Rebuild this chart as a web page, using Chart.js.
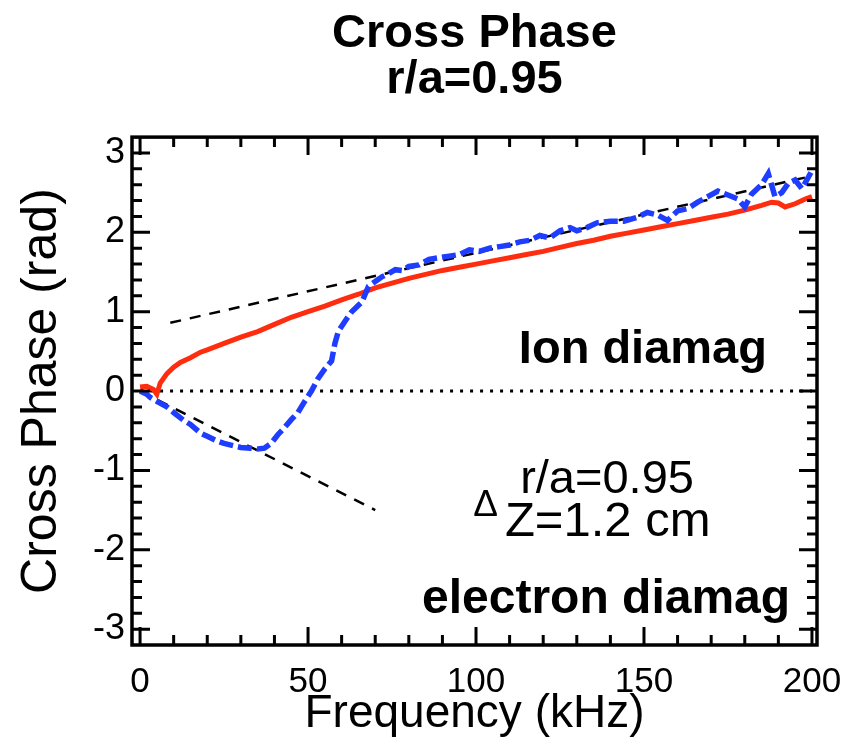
<!DOCTYPE html>
<html>
<head>
<meta charset="utf-8">
<script src="https://cdn.jsdelivr.net/npm/chart.js@4/dist/chart.umd.min.js"></script>
<style>
  html, body { margin: 0; padding: 0; background: #fff; }
  #wrap { width: 852px; height: 754px; }
</style>
</head>
<body>
<div id="wrap"><canvas id="phaseChart" width="852" height="754"></canvas></div>
<script>
// frequency (kHz) and cross phase (rad)
let redFreq = [0, 2, 4, 5, 6, 8, 10, 12, 15, 18, 20, 25, 30, 35, 40, 45, 50, 55, 60, 65, 70, 75, 80, 85, 90, 95,
  100, 105, 110, 115, 120, 125, 130, 135, 140, 145, 150, 155, 160, 165, 170, 175, 180, 185, 188, 190, 192, 195, 198, 200];
let redPhase = [0.05, 0.06, 0.02, -0.04, 0.1, 0.22, 0.3, 0.36, 0.42, 0.49, 0.52, 0.6, 0.68, 0.75, 0.84, 0.93, 1.0, 1.07, 1.15, 1.22, 1.3, 1.36, 1.42, 1.47, 1.52, 1.56,
  1.6, 1.64, 1.68, 1.72, 1.76, 1.81, 1.86, 1.9, 1.95, 1.99, 2.03, 2.07, 2.11, 2.15, 2.19, 2.23, 2.28, 2.34, 2.38, 2.37, 2.32, 2.36, 2.42, 2.45];

let blueFreq = [0, 2, 3, 5, 8, 10, 13, 15, 18, 20, 23, 25, 28, 30, 33, 35, 37, 39, 41, 43, 45, 47, 49, 51, 53, 55, 57, 58, 59, 61, 63, 65, 66, 67, 68,
  70, 72, 74, 76, 78, 80, 83, 86, 89, 92, 95, 98, 101, 104, 107, 110, 113, 116, 119, 122, 125, 128, 130, 133, 136, 140, 144, 148,
  151, 154, 157, 160, 163, 166, 169, 172, 175, 178, 180, 182, 185, 187, 189, 191, 193, 195, 197, 199, 200];
let bluePhase = [0.0, -0.04, -0.08, -0.13, -0.2, -0.27, -0.37, -0.42, -0.53, -0.57, -0.63, -0.66, -0.69, -0.71, -0.72, -0.73, -0.72, -0.66, -0.55, -0.46, -0.36, -0.27, -0.13, 0.0, 0.16, 0.28, 0.38, 0.6, 0.75, 0.88, 1.0, 1.08, 1.12, 1.22, 1.32,
  1.38, 1.44, 1.48, 1.53, 1.52, 1.57, 1.59, 1.66, 1.68, 1.7, 1.72, 1.78, 1.76, 1.8, 1.82, 1.84, 1.88, 1.9, 1.96, 1.93, 2.02, 2.06, 2.02, 2.06, 2.12, 2.14, 2.14, 2.19,
  2.25, 2.22, 2.15, 2.27, 2.3, 2.38, 2.45, 2.52, 2.47, 2.42, 2.32, 2.48, 2.6, 2.74, 2.45, 2.5, 2.62, 2.66, 2.55, 2.7, 2.78];

// black dashed guide lines and the zero line
let ionFitFreq = [9, 200];
let ionFitPhase = [0.86, 2.71];
let elecFitFreq = [0, 70];
let elecFitPhase = [0.0, -1.5];
let zeroFreq = [0, 200];
let zeroPhase = [0, 0];

let xTicks = [0, 50, 100, 150, 200];
let yTicks = [-3, -2, -1, 0, 1, 2, 3];

const FONT = '"Liberation Sans", Arial, Helvetica, sans-serif';

function pairs(xs, ys) {
  return xs.map((x, i) => ({ x: x, y: ys[i] }));
}

// frame with inward major/minor ticks on all four sides, plus the text notes
const framePlugin = {
  id: 'frame',
  afterDraw(chart) {
    const ctx = chart.ctx;
    const a = chart.chartArea;
    const xs = chart.scales.x;
    const ys = chart.scales.y;
    ctx.save();
    ctx.strokeStyle = '#000';
    ctx.lineWidth = 3;
    ctx.lineCap = 'butt';
    ctx.beginPath();
    for (let v = 0; v <= 200; v += 10) {
      let px = xs.getPixelForValue(v);
      let len = v % 50 === 0 ? 18 : 10;
      ctx.moveTo(px, a.bottom); ctx.lineTo(px, a.bottom - len);
      ctx.moveTo(px, a.top); ctx.lineTo(px, a.top + len);
    }
    for (let k = -15; k <= 15; k++) {
      let py = ys.getPixelForValue(k * 0.2);
      let len = k % 5 === 0 ? 18 : 10;
      ctx.moveTo(a.left, py); ctx.lineTo(a.left + len, py);
      ctx.moveTo(a.right, py); ctx.lineTo(a.right - len, py);
    }
    ctx.stroke();
    ctx.lineWidth = 3.5;
    ctx.strokeRect(a.left, a.top, a.right - a.left, a.bottom - a.top);

    ctx.fillStyle = '#000';
    ctx.textBaseline = 'alphabetic';
    ctx.textAlign = 'right';
    ctx.font = 'bold 47px ' + FONT;
    ctx.fillText('Ion diamag', xs.getPixelForValue(186.6), ys.getPixelForValue(0.35));
    ctx.font = 'bold 48px ' + FONT;
    ctx.fillText('electron diamag', xs.getPixelForValue(193.5), ys.getPixelForValue(-2.8));

    ctx.font = '47px ' + FONT;
    ctx.textAlign = 'center';
    ctx.fillText('r/a=0.95', xs.getPixelForValue(139), ys.getPixelForValue(-1.28));
    ctx.textAlign = 'left';
    ctx.font = '49px ' + FONT;
    ctx.fillText('Z=1.2 cm', xs.getPixelForValue(108.6), ys.getPixelForValue(-1.83));
    ctx.font = '37px ' + FONT;
    ctx.fillText('\u0394', xs.getPixelForValue(99.2), ys.getPixelForValue(-1.57));
    ctx.restore();
  }
};

new Chart(document.getElementById('phaseChart').getContext('2d'), {
  type: 'line',
  data: {
    datasets: [
      { data: pairs(blueFreq, bluePhase), borderColor: '#1f3dff', borderWidth: 5.5, borderDash: [14, 5], order: 0 },
      { data: pairs(redFreq, redPhase), borderColor: '#ff2d0f', borderWidth: 5, order: 1 },
      { data: pairs(ionFitFreq, ionFitPhase), borderColor: '#000', borderWidth: 2.5, borderDash: [11, 9], order: 2 },
      { data: pairs(elecFitFreq, elecFitPhase), borderColor: '#000', borderWidth: 2.5, borderDash: [11, 9], order: 3 },
      { data: pairs(zeroFreq, zeroPhase), borderColor: '#000', borderWidth: 3, borderDash: [3, 7], order: 4 }
    ]
  },
  options: {
    responsive: false,
    animation: false,
    events: [],
    elements: { point: { radius: 0 }, line: { tension: 0, fill: false } },
    layout: { padding: { left: 0, right: 35, top: 0, bottom: 0 } },
    plugins: {
      legend: { display: false },
      tooltip: { enabled: false },
      title: {
        display: true,
        fullSize: false,
        text: ['Cross Phase', 'r/a=0.95'],
        color: '#000',
        font: { family: FONT, size: 47, weight: 'bold', lineHeight: 0.98 },
        padding: { top: 11, bottom: 34 }
      }
    },
    scales: {
      x: {
        type: 'linear',
        min: -2.4,
        max: 201.5,
        afterBuildTicks(scale) { scale.ticks = xTicks.map(v => ({ value: v })); },
        afterFit(scale) { scale.height = 109; scale.paddingLeft = 0; scale.paddingRight = 0; },
        grid: { display: false, drawTicks: false },
        border: { display: false },
        ticks: { color: '#000', font: { family: FONT, size: 35 }, padding: 16, maxRotation: 0 },
        title: {
          display: true,
          text: 'Frequency (kHz)',
          color: '#000',
          font: { family: FONT, size: 46 },
          padding: { top: 0, bottom: 12 }
        }
      },
      y: {
        type: 'linear',
        min: -3.2,
        max: 3.2,
        afterBuildTicks(scale) { scale.ticks = yTicks.map(v => ({ value: v })); },
        afterFit(scale) { scale.width = 132; scale.paddingTop = 0; scale.paddingBottom = 0; },
        grid: { display: false, drawTicks: false },
        border: { display: false },
        ticks: { color: '#000', font: { family: FONT, size: 36 }, padding: 7 },
        title: {
          display: true,
          text: 'Cross Phase (rad)',
          color: '#000',
          font: { family: FONT, size: 50 },
          padding: { top: 12, bottom: 0 }
        }
      }
    }
  },
  plugins: [framePlugin]
});
</script>
</body>
</html>
